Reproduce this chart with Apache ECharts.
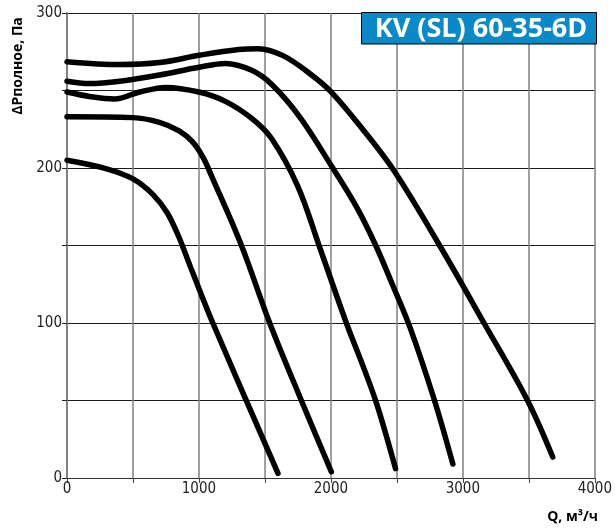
<!DOCTYPE html>
<html>
<head>
<meta charset="utf-8">
<script src="https://cdn.jsdelivr.net/npm/echarts@6/dist/echarts.min.js"></script>
<style>html,body{margin:0;padding:0;background:#fff}#c{width:615px;height:531px}</style>
</head>
<body>
<div id="c"></div>
<script>
// Data (Q in m³/h, ΔP in Pa)
var q1 = [0, 300, 500, 650, 760, 850, 950, 1105, 1599];
var p1 = [205, 199.5, 193, 183, 171, 155, 133, 100, 3];
var q2 = [0, 500, 700, 850, 950, 1030, 1100, 1322, 1536, 1776, 2003];
var p2 = [233, 232.5, 229.5, 224, 217, 207, 194, 150, 100, 50, 4];
var q3 = [0, 180, 360, 550, 750, 1000, 1200, 1400, 1550, 1750, 1910, 2117, 2240, 2350, 2490];
var p3 = [249, 246, 244.5, 249, 252, 249, 243, 232, 219, 188, 150, 100, 73, 47, 6];
var q4 = [0, 170, 400, 700, 1000, 1200, 1400, 1550, 1763, 2014, 2200, 2340, 2470, 2600, 2785, 2924];
var p4 = [256, 254.5, 256, 260, 265, 267.4, 263, 254, 233, 200, 174, 150, 124, 97, 50, 9];
var q5 = [0, 400, 700, 1000, 1300, 1450, 1637, 1839, 2003, 2250, 2480, 2824, 3160, 3490, 3681];
var p5 = [268.6, 266.7, 268, 272.7, 276.5, 277, 272.5, 261, 249, 224, 198, 150, 100, 50, 13.5];
var xTicks = [0, 1000, 2000, 3000, 4000];
var yTicks = [0, 100, 200, 300];
var titleText = 'KV (SL) 60-35-6D';
var xName = 'Q, м³/ч';
var yName = 'ΔPполное, Па';

function zip(a, b) { return a.map(function (v, i) { return [v, b[i]]; }); }
var curves = [[q1, p1], [q2, p2], [q3, p3], [q4, p4], [q5, p5]];

var labelFont = "'Liberation Sans Narrow', 'DejaVu Sans Condensed', 'Liberation Sans', sans-serif";
var chart = echarts.init(document.getElementById('c'));
chart.setOption({
  animation: false,
  backgroundColor: '#fff',
  grid: { left: 67, right: 19, top: 13, bottom: 53, containLabel: false },
  xAxis: {
    type: 'value', min: 0, max: 4000, interval: 500,
    axisLine: { show: true, lineStyle: { color: '#333', width: 1 } },
    axisTick: { show: true, length: 5, lineStyle: { color: '#444', width: 1 } },
    axisLabel: {
      margin: 4, color: '#222', fontSize: 15, fontFamily: labelFont,
      formatter: function (v) { return xTicks.indexOf(v) >= 0 ? String(v) : ''; }
    },
    splitLine: { show: true, lineStyle: { color: '#808080', width: 1.5 } }
  },
  yAxis: {
    type: 'value', min: 0, max: 300, interval: 50,
    axisLine: { show: true, lineStyle: { color: '#808080', width: 2 } },
    axisTick: { show: true, length: 5, lineStyle: { color: '#222', width: 1 } },
    axisLabel: {
      margin: 5, color: '#222', fontSize: 15, fontFamily: labelFont,
      formatter: function (v) { return yTicks.indexOf(v) >= 0 ? String(v) : ''; }
    },
    splitLine: { show: true, lineStyle: { color: '#1a1a1a', width: 1 } }
  },
  series: curves.map(function (c) {
    return {
      type: 'line', data: zip(c[0], c[1]), smooth: 0.35, symbol: 'none',
      lineStyle: { color: '#000', width: 5.5, cap: 'round', join: 'round' },
      z: 5
    };
  }),
  graphic: [
    { type: 'rect', shape: { x: 361.5, y: 12.5, width: 235, height: 31.5 },
      style: { fill: '#0a89c9', stroke: '#000', lineWidth: 1 }, z: 100 },
    { type: 'text', x: 481, y: 29, z: 101,
      style: { text: titleText, fill: '#fff', font: "bold 27px 'Open Sans', sans-serif",
        textAlign: 'center', textVerticalAlign: 'middle' } },
    { type: 'text', x: 598, y: 517, z: 101,
      style: { text: xName, fill: '#000', font: "bold 14px 'Open Sans', sans-serif",
        textAlign: 'right', textVerticalAlign: 'middle' } },
    { type: 'text', x: 18, y: 66, rotation: Math.PI / 2, z: 101,
      style: { text: yName, fill: '#000', font: "bold 14px 'Open Sans', sans-serif",
        textAlign: 'center', textVerticalAlign: 'middle' } }
  ]
});
</script>
</body>
</html>
